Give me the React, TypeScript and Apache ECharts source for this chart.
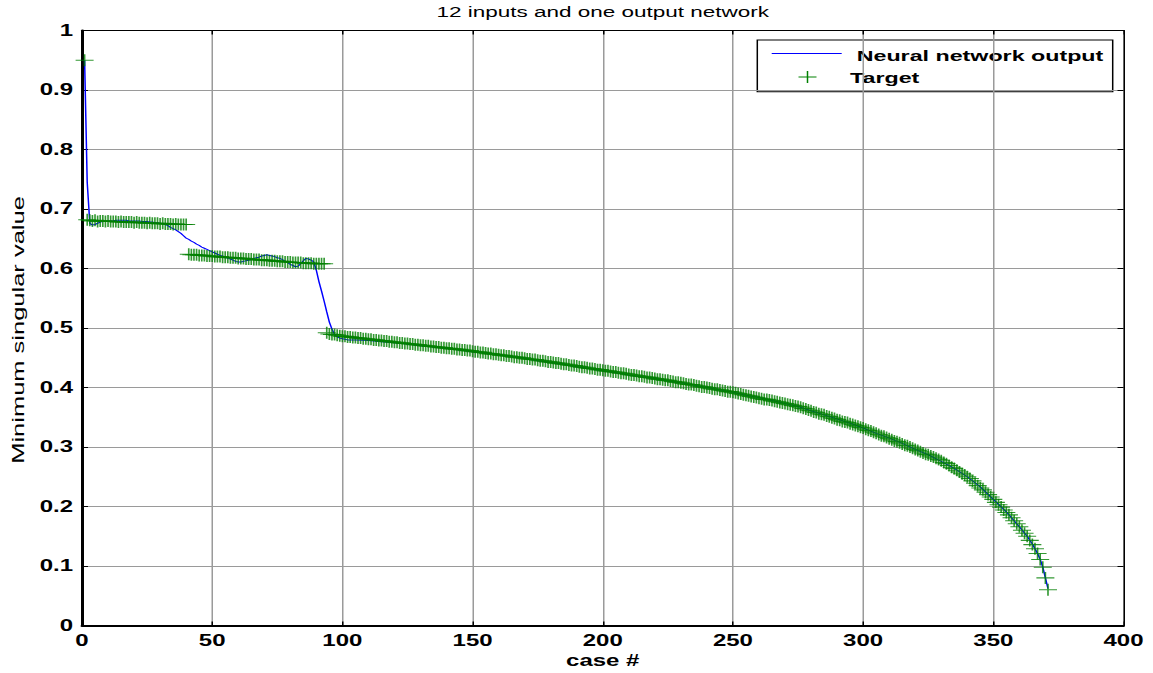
import React, { useEffect, useRef } from "react";
import * as echarts from "echarts";

// The reference figure uses very wide lettering; we render a narrower chart and stretch it.
const STRETCH = 1.5;
const PAGE_W = 1153;
const PAGE_H = 673;
const CHART_W = PAGE_W / STRETCH;

const titleText = "12 inputs and one output network";
const xName = "case #";
const yName = "Minimum singular value";
const lineName = "Neural network output";
const markerName = "Target";

const xTicks = { min: 0, max: 400, interval: 50 };
const yTicks = { min: 0, max: 1, interval: 0.1 };

// Target values (one per case)
const targetFirstCase = 1;
const targetFirst = [0.95];

const seg1Start = 2;
const targetSeg1 = [
  0.682, 0.681, 0.68, 0.681, 0.679, 0.68, 0.68, 0.679, 0.68, 0.679,
  0.679, 0.679, 0.678, 0.679, 0.678, 0.678, 0.678, 0.678, 0.677, 0.678,
  0.677, 0.677, 0.677, 0.676, 0.677, 0.676, 0.676, 0.676, 0.675, 0.676,
  0.675, 0.675, 0.675, 0.674, 0.675, 0.674, 0.674, 0.674, 0.674,
];

const seg2Start = 41;
const targetSeg2 = [
  0.624, 0.623, 0.623, 0.623, 0.622, 0.622, 0.622, 0.621, 0.621, 0.621,
  0.62, 0.62, 0.62, 0.619, 0.619, 0.619, 0.618, 0.618, 0.618, 0.617,
  0.617, 0.617, 0.616, 0.616, 0.616, 0.615, 0.615, 0.615, 0.614, 0.614,
  0.614, 0.613, 0.613, 0.613, 0.612, 0.612, 0.612, 0.611, 0.611, 0.611,
  0.61, 0.61, 0.61, 0.61, 0.609, 0.609, 0.609, 0.609, 0.608, 0.608,
  0.608, 0.608, 0.608,
];

const seg3Start = 94;
const targetSeg3 = [
  // 94-100
  0.492, 0.49, 0.489, 0.489, 0.488, 0.487, 0.486,
  // 101-110
  0.486, 0.485, 0.485, 0.484, 0.484, 0.483, 0.483, 0.482, 0.482, 0.481,
  // 111-125
  0.481, 0.48, 0.48, 0.479, 0.479, 0.478, 0.478, 0.477, 0.477, 0.476, 0.476, 0.475, 0.475, 0.474, 0.474,
  // 126-150
  0.473, 0.473, 0.472, 0.472, 0.471, 0.471, 0.47, 0.47, 0.469, 0.469, 0.468, 0.468, 0.467, 0.467, 0.466,
  0.466, 0.465, 0.465, 0.464, 0.464, 0.463, 0.463, 0.462, 0.462, 0.461,
  // 151-175
  0.46, 0.46, 0.459, 0.459, 0.458, 0.457, 0.457, 0.456, 0.456, 0.455, 0.454, 0.454, 0.453, 0.453, 0.452,
  0.451, 0.451, 0.45, 0.45, 0.449, 0.448, 0.448, 0.447, 0.447, 0.446,
  // 176-200
  0.445, 0.445, 0.444, 0.443, 0.443, 0.442, 0.441, 0.441, 0.44, 0.439, 0.439, 0.438, 0.437, 0.437, 0.436,
  0.435, 0.434, 0.434, 0.433, 0.432, 0.432, 0.431, 0.43, 0.43, 0.429,
  // 201-225
  0.428, 0.428, 0.427, 0.426, 0.426, 0.425, 0.424, 0.424, 0.423, 0.422, 0.421, 0.421, 0.42, 0.419, 0.419,
  0.418, 0.417, 0.417, 0.416, 0.415, 0.414, 0.414, 0.413, 0.412, 0.412,
  // 226-250
  0.411, 0.41, 0.409, 0.409, 0.408, 0.407, 0.406, 0.405, 0.405, 0.404, 0.403, 0.402, 0.401, 0.401, 0.4,
  0.399, 0.398, 0.397, 0.397, 0.396, 0.395, 0.394, 0.393, 0.393, 0.392,
  // 251-275
  0.391, 0.39, 0.389, 0.388, 0.387, 0.386, 0.385, 0.384, 0.383, 0.382, 0.381, 0.38, 0.38, 0.379, 0.378,
  0.377, 0.376, 0.375, 0.374, 0.373, 0.372, 0.371, 0.37, 0.369, 0.368,
  // 276-300
  0.367, 0.365, 0.364, 0.362, 0.361, 0.359, 0.358, 0.356, 0.355, 0.354, 0.352, 0.351, 0.349, 0.348, 0.346,
  0.345, 0.343, 0.342, 0.341, 0.339, 0.338, 0.336, 0.335, 0.333, 0.332,
  // 301-318
  0.33, 0.328, 0.327, 0.325, 0.323, 0.321, 0.319, 0.318, 0.316, 0.314, 0.312, 0.31, 0.309, 0.307, 0.305,
  0.303, 0.302, 0.3,
  // 319-330
  0.298, 0.296, 0.294, 0.292, 0.29, 0.288, 0.287, 0.285, 0.283, 0.281, 0.279, 0.277,
  // 331-341
  0.274, 0.272, 0.269, 0.266, 0.264, 0.261, 0.258, 0.255, 0.253, 0.25, 0.247,
  // 342-349
  0.243, 0.239, 0.235, 0.231, 0.228, 0.224, 0.22, 0.216,
  // 350-356
  0.212, 0.207, 0.203, 0.199, 0.194, 0.19, 0.186,
  // 357-363
  0.181, 0.176, 0.171, 0.166, 0.16, 0.155, 0.15,
  // 364-371
  0.143, 0.136, 0.129, 0.121, 0.111, 0.098, 0.08, 0.06,
];

// Neural network output: one value per case for cases 1..103
const outputEarlyStart = 1;
const outputEarly = [
  0.95, 0.745, 0.676, 0.673, 0.674, 0.676, 0.678, 0.679, 0.679, 0.68,
  0.68, 0.68, 0.681, 0.681, 0.681, 0.681, 0.681, 0.68, 0.68, 0.68,
  0.68, 0.68, 0.679, 0.679, 0.679, 0.678, 0.678, 0.677, 0.677, 0.676,
  0.675, 0.674, 0.672, 0.669, 0.667, 0.665, 0.662, 0.659, 0.655, 0.651,
  0.649, 0.646, 0.644, 0.641, 0.639, 0.636, 0.634, 0.632, 0.63, 0.628,
  0.626, 0.624, 0.622, 0.621, 0.619, 0.617, 0.616, 0.614, 0.612, 0.611,
  0.611, 0.612, 0.613, 0.614, 0.615, 0.617, 0.618, 0.619, 0.621, 0.622,
  0.623, 0.622, 0.621, 0.62, 0.618, 0.617, 0.615, 0.612, 0.61, 0.607,
  0.605, 0.603, 0.604, 0.608, 0.613, 0.617, 0.616, 0.614, 0.611, 0.597,
  0.578, 0.562, 0.545, 0.527, 0.51, 0.498, 0.489, 0.485, 0.483, 0.482,
  0.481, 0.48, 0.48,
];

// Neural network output after case 103: [case, value]
const outputLate: [number, number][] = [
  [105, 0.48], [110, 0.479], [115, 0.477], [120, 0.475], [125, 0.473], [130, 0.47],
  [135, 0.468], [140, 0.466], [145, 0.463], [150, 0.46], [155, 0.458], [160, 0.455],
  [165, 0.452], [170, 0.449], [175, 0.445], [180, 0.442], [185, 0.439], [190, 0.435],
  [195, 0.432], [200, 0.428], [205, 0.425], [210, 0.421], [215, 0.418], [220, 0.415],
  [225, 0.411], [230, 0.408], [235, 0.404], [240, 0.4], [245, 0.396], [250, 0.392],
  [255, 0.387], [260, 0.383], [265, 0.378], [270, 0.373], [275, 0.368], [280, 0.361],
  [285, 0.354], [290, 0.347], [295, 0.34], [300, 0.332], [305, 0.323], [310, 0.315],
  [315, 0.306], [320, 0.296], [325, 0.287], [330, 0.276], [335, 0.264], [340, 0.25],
  [345, 0.233], [350, 0.212], [355, 0.191], [360, 0.166], [363, 0.15], [365, 0.137],
  [367, 0.121], [368, 0.111], [369, 0.098], [370, 0.08], [371, 0.062],
];

const FONT = "'Liberation Sans', Arial, sans-serif";

function pairs(start: number, vals: number[]): [number, number][] {
  return vals.map((v, i) => [start + i, v]);
}

export default function App() {
  const ref = useRef<HTMLDivElement>(null);

  useEffect(() => {
    if (!ref.current) return;
    const chart = echarts.init(ref.current, undefined, { renderer: "svg" });

    const targetData = [
      ...pairs(targetFirstCase, targetFirst),
      ...pairs(seg1Start, targetSeg1),
      ...pairs(seg2Start, targetSeg2),
      ...pairs(seg3Start, targetSeg3),
    ];
    const outputData = [...pairs(outputEarlyStart, outputEarly), ...outputLate];

    const gridLeft = 82 / STRETCH;
    const gridRight = 30 / STRETCH;

    const tickLabel = { fontFamily: FONT, fontWeight: "bold" as const, fontSize: 16, color: "#000" };
    const split = { show: true, lineStyle: { color: "#9a9a9a", width: 1 } };

    const lx = (px: number) => px / STRETCH;

    const option: any = {
      animation: false,
      backgroundColor: "#ffffff",
      textStyle: { fontFamily: FONT },
      title: {
        text: titleText,
        left: lx(603) - 111,
        top: 4,
        padding: 0,
        textStyle: { fontFamily: FONT, fontWeight: "normal", fontSize: 15, color: "#000" },
      },
      grid: {
        left: gridLeft,
        right: gridRight,
        top: 30.5,
        bottom: 47.5,
        containLabel: false,
        outerBoundsMode: "none",
      },
      xAxis: [
        {
          type: "value",
          position: "bottom",
          ...xTicks,
          name: xName,
          nameLocation: "middle",
          nameGap: 29,
          nameMoveOverlap: false,
          nameTextStyle: { fontFamily: FONT, fontWeight: "bold", fontSize: 16, lineHeight: 13, color: "#000" },
          axisLine: { onZero: false, lineStyle: { color: "#000", width: 2 } },
          axisTick: { inside: true, length: 4, lineStyle: { color: "#000", width: 1 } },
          axisLabel: { ...tickLabel, lineHeight: 14, margin: 8 },
          splitLine: split,
        },
        {
          type: "value",
          position: "top",
          ...xTicks,
          axisLine: { onZero: false, lineStyle: { color: "#000", width: 1 } },
          axisTick: { inside: true, length: 4, lineStyle: { color: "#000", width: 1 } },
          axisLabel: { show: false },
          splitLine: { show: false },
        },
      ],
      yAxis: [
        {
          type: "value",
          position: "left",
          ...yTicks,
          axisLine: { onZero: false, lineStyle: { color: "#000", width: 2 } },
          axisTick: { inside: true, length: 4, lineStyle: { color: "#000", width: 1 } },
          axisLabel: { ...tickLabel, margin: 6 },
          splitLine: split,
        },
        {
          type: "value",
          position: "right",
          ...yTicks,
          axisLine: { onZero: false, lineStyle: { color: "#000", width: 1 } },
          axisTick: { inside: true, length: 4, lineStyle: { color: "#000", width: 1 } },
          axisLabel: { show: false },
          splitLine: { show: false },
        },
      ],
      series: [
        {
          type: "line",
          name: lineName,
          data: outputData,
          xAxisIndex: 0,
          yAxisIndex: 0,
          symbol: "none",
          showSymbol: false,
          lineStyle: { color: "#0000ff", width: 1 },
          z: 2,
        },
        {
          type: "scatter",
          name: markerName,
          data: targetData,
          xAxisIndex: 0,
          yAxisIndex: 0,
          symbol: "path://M0,5L10,5M5,0L5,10",
          symbolSize: 12,
          itemStyle: { color: "rgba(0,0,0,0)", borderColor: "#008000", borderWidth: 1.1 },
          z: 3,
        },
      ],
      graphic: [
        {
          // rotated y-axis title, long along its reading direction like the reference
          type: "text",
          x: lx(18),
          y: 330,
          rotation: Math.PI / 2,
          scaleX: STRETCH,
          scaleY: 1 / STRETCH,
          z: 50,
          style: {
            text: yName,
            fontFamily: FONT,
            fontWeight: "normal",
            fontSize: 17,
            fill: "#000",
            align: "center",
            verticalAlign: "middle",
          },
        },
        {
          type: "group",
          z: 100,
          children: [
            {
              type: "rect",
              shape: { x: lx(757.3), y: 40, width: lx(1112.7) - lx(757.3), height: 51.7 },
              style: { fill: "#fff", stroke: "#000", lineWidth: 1 },
            },
            {
              type: "line",
              shape: { x1: lx(771.7), y1: 53.5, x2: lx(841.7), y2: 53.5 },
              style: { stroke: "#0000ff", lineWidth: 1 },
            },
            {
              type: "text",
              x: lx(856.7),
              y: 55.5,
              style: {
                text: lineName,
                fontFamily: FONT,
                fontWeight: "bold",
                fontSize: 15.5,
                fill: "#000",
                verticalAlign: "middle",
                align: "left",
              },
            },
            {
              type: "line",
              shape: { x1: lx(807.5) - 6, y1: 77, x2: lx(807.5) + 6, y2: 77 },
              style: { stroke: "#008000", lineWidth: 1 },
            },
            {
              type: "line",
              shape: { x1: lx(807.5), y1: 71, x2: lx(807.5), y2: 83 },
              style: { stroke: "#008000", lineWidth: 1 },
            },
            {
              type: "text",
              x: lx(850),
              y: 78,
              style: {
                text: markerName,
                fontFamily: FONT,
                fontWeight: "bold",
                fontSize: 15.5,
                fill: "#000",
                verticalAlign: "middle",
                align: "left",
              },
            },
          ],
        },
      ],
    };

    chart.setOption(option);
    return () => chart.dispose();
  }, []);

  return (
    <div
      style={{
        position: "fixed",
        left: 0,
        top: 0,
        width: PAGE_W,
        height: PAGE_H,
        overflow: "hidden",
        background: "#fff",
      }}
    >
      <div
        ref={ref}
        style={{
          width: CHART_W,
          height: PAGE_H,
          transform: `scaleX(${STRETCH})`,
          transformOrigin: "0 0",
        }}
      />
    </div>
  );
}
